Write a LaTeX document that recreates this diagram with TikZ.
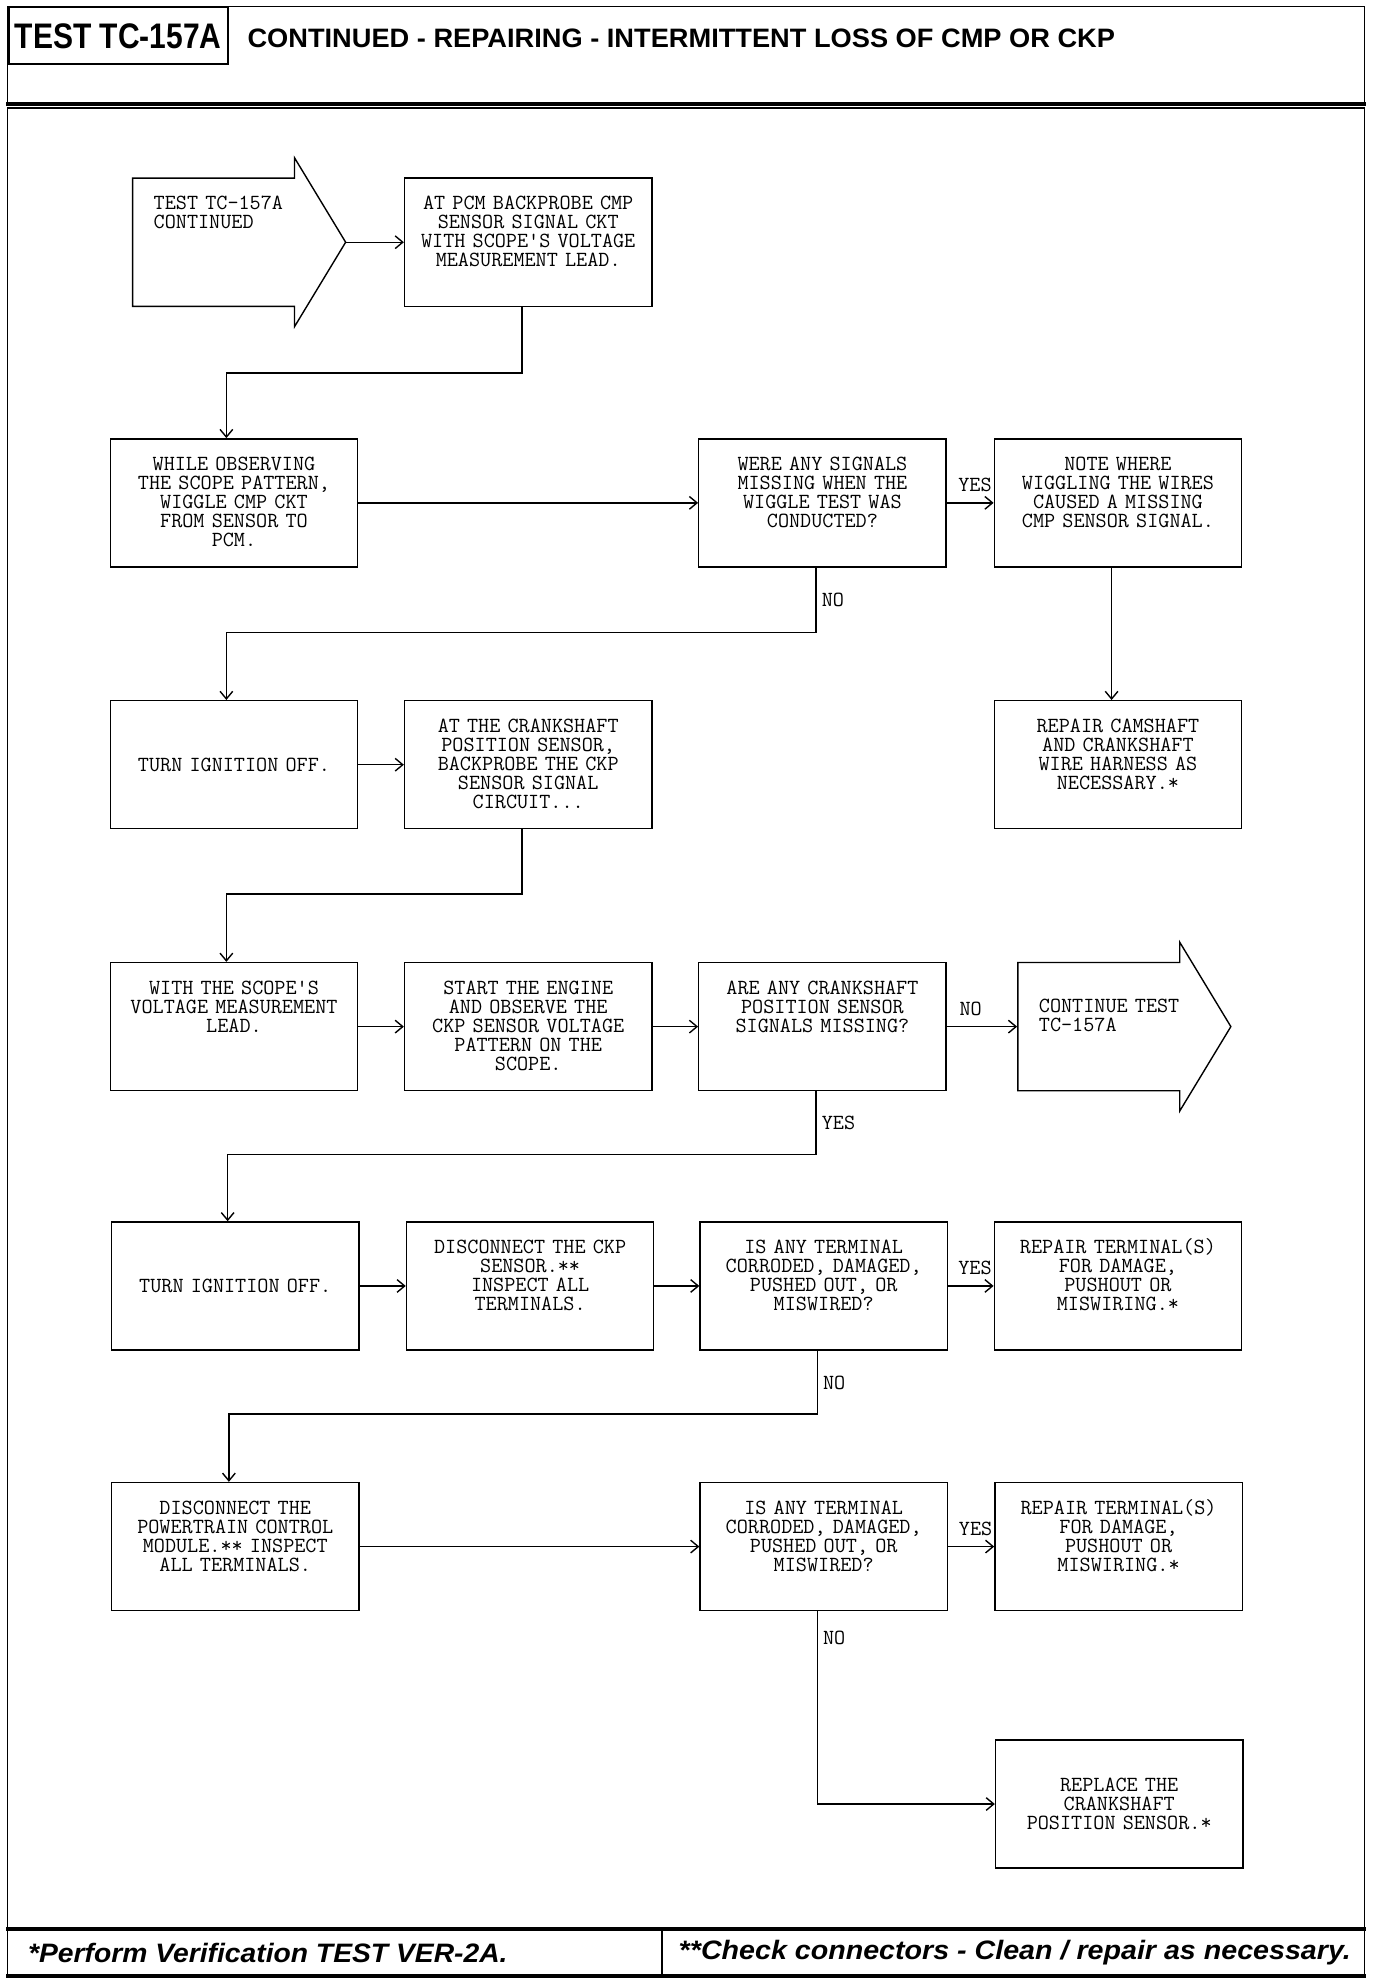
\documentclass[tikz,border=0pt]{standalone}
\usepackage{fontspec}
\setmainfont{Liberation Sans}
\usetikzlibrary{arrows.meta,shapes.arrows}

\tikzset{
  box/.style={draw, line width=1.1pt, inner sep=0pt, text width=195pt, align=center,
    text height=25pt, text depth=76pt, font=\ttfamily\fontsize{17}{15}\selectfont},
  boxmid/.style={draw, line width=1.1pt, inner sep=0pt, text width=195pt, align=center,
    minimum height=101pt, font=\ttfamily\fontsize{17}{15}\selectfont},
  bigarrow/.style={draw, line width=1.1pt, single arrow, single arrow head extend=16pt,
    single arrow head indent=0pt, single arrow tip angle=117.6, minimum height=168pt,
    inner xsep=0pt, inner ysep=50pt, anchor=tail},
  arrtext/.style={anchor=base west, text width=140pt, align=left, inner sep=0pt,
    font=\ttfamily\fontsize{17}{15}\selectfont},
  lbl/.style={inner sep=1pt, font=\ttfamily\fontsize{17}{15}\selectfont},
  arr/.style={line width=1.1pt, -{Straight Barb[length=6pt,width=10pt]}},
  foot/.style={anchor=west, inner sep=0pt, font=\bfseries\itshape\fontsize{21}{21}\selectfont}
}

\begin{document}
\begin{tikzpicture}[x=1pt,y=-1pt]
  \useasboundingbox (0,0) rectangle (1085,1566);

  % header and frame
  \draw[line width=1.2pt] (6,82) -- (6,5) -- (1076,5) -- (1076,82);
  \draw[line width=3pt] (5,82) -- (1077,82);
  \draw[line width=1.2pt] (6,85) rectangle (1076,1558);
  \draw[line width=3pt] (5,1521) -- (1077,1521);
  \draw[line width=3pt] (5,1558) -- (1077,1558);
  \draw[line width=1.2pt] (522,1521) -- (522,1558);
  \node[draw, line width=1.5pt, anchor=north west, minimum width=173pt, minimum height=45pt,
    inner sep=0pt, font=\bfseries\fontsize{28}{28}\selectfont] (testno) at (6,5)
    {\resizebox{163pt}{\height}{TEST TC-157A}};
  \node[anchor=west, inner sep=0pt, font=\bfseries\fontsize{21}{21}\selectfont] (title) at (195,30)
    {\resizebox{684pt}{\height}{CONTINUED - REPAIRING - INTERMITTENT LOSS OF CMP OR CKP}};

  \node[bigarrow] (start) at (104,191) {};
  \node[arrtext] (starttxt) at (121,165) {TEST TC-157A\\CONTINUED};
  \node[box] (A1) at (416.5,191) {AT PCM BACKPROBE CMP\\SENSOR SIGNAL CKT\\WITH SCOPE'S VOLTAGE\\MEASUREMENT LEAD.};

  \node[box] (B1) at (184.5,396.5) {WHILE OBSERVING\\THE SCOPE PATTERN,\\WIGGLE CMP CKT\\FROM SENSOR TO\\PCM.};
  \node[box] (B2) at (648.5,396.5) {WERE ANY SIGNALS\\MISSING WHEN THE\\WIGGLE TEST WAS\\CONDUCTED?};
  \node[box] (B3) at (881.5,396.5) {NOTE WHERE\\WIGGLING THE WIRES\\CAUSED A MISSING\\CMP SENSOR SIGNAL.};

  \node[boxmid] (C1) at (184.5,603) {TURN IGNITION OFF.};
  \node[box] (C2) at (416.5,603) {AT THE CRANKSHAFT\\POSITION SENSOR,\\BACKPROBE THE CKP\\SENSOR SIGNAL\\CIRCUIT...};
  \node[box] (C3) at (881.5,603) {REPAIR CAMSHAFT\\AND CRANKSHAFT\\WIRE HARNESS AS\\NECESSARY.*};

  \node[box] (D1) at (184.5,809.5) {WITH THE SCOPE'S\\VOLTAGE MEASUREMENT\\LEAD.};
  \node[box] (D2) at (416.5,809.5) {START THE ENGINE\\AND OBSERVE THE\\CKP SENSOR VOLTAGE\\PATTERN ON THE\\SCOPE.};
  \node[box] (D3) at (648.5,809.5) {ARE ANY CRANKSHAFT\\POSITION SENSOR\\SIGNALS MISSING?};
  \node[bigarrow] (D4) at (802,809.5) {};
  \node[arrtext] (D4txt) at (819,798) {CONTINUE TEST\\TC-157A};

  \node[boxmid] (E1) at (185.5,1014) {TURN IGNITION OFF.};
  \node[box] (E2) at (418,1014) {DISCONNECT THE CKP\\SENSOR.**\\INSPECT ALL\\TERMINALS.};
  \node[box] (E3) at (649.5,1014) {IS ANY TERMINAL\\CORRODED, DAMAGED,\\PUSHED OUT, OR\\MISWIRED?};
  \node[box] (E4) at (881.5,1014) {REPAIR TERMINAL(S)\\FOR DAMAGE,\\PUSHOUT OR\\MISWIRING.*};

  \node[box] (F1) at (185.5,1219.5) {DISCONNECT THE\\POWERTRAIN CONTROL\\MODULE.** INSPECT\\ALL TERMINALS.};
  \node[box] (F3) at (649.5,1219.5) {IS ANY TERMINAL\\CORRODED, DAMAGED,\\PUSHED OUT, OR\\MISWIRED?};
  \node[box] (F4) at (882,1219.5) {REPAIR TERMINAL(S)\\FOR DAMAGE,\\PUSHOUT OR\\MISWIRING.*};

  \node[boxmid] (G4) at (882.5,1422.5) {REPLACE THE\\CRANKSHAFT\\POSITION SENSOR.*};

  % connectors
  \draw[arr] (start.tip) -- (start.tip -| A1.west);
  \draw[arr] ([xshift=-5pt]A1.south) -- ++(0,52) -| ([xshift=-6pt]B1.north);
  \draw[arr] (B1) -- (B2);
  \draw[arr] (B2) -- (B3) node[lbl, pos=1, above left, yshift=7pt] {YES};
  \draw[arr] ([xshift=-5pt]B2.south) -- node[lbl, right, xshift=3pt] {NO} ++(0,51) -| ([xshift=-6pt]C1.north);
  \draw[arr] ([xshift=-5pt]B3.south) -- ([xshift=-5pt]C3.north);
  \draw[arr] (C1) -- (C2);
  \draw[arr] ([xshift=-5pt]C2.south) -- ++(0,51) -| ([xshift=-6pt]D1.north);
  \draw[arr] (D1) -- (D2);
  \draw[arr] (D2) -- (D3);
  \draw[arr] (D3) -- node[lbl, pos=0.34, above, yshift=7pt] {NO} (D4.tail);
  \draw[arr] ([xshift=-5pt]D3.south) -- node[lbl, right, xshift=3pt] {YES} ++(0,50) -| ([xshift=-6pt]E1.north);
  \draw[arr] (E1) -- (E2);
  \draw[arr] (E2) -- (E3);
  \draw[arr] (E3) -- (E4) node[lbl, pos=1, above left, yshift=7pt] {YES};
  \draw[arr] ([xshift=-5pt]E3.south) -- node[lbl, right, xshift=3pt] {NO} ++(0,50) -| ([xshift=-5pt]F1.north);
  \draw[arr] (F1) -- (F3);
  \draw[arr] (F3) -- (F4) node[lbl, pos=1, above left, yshift=7pt] {YES};
  \draw[arr] ([xshift=-5pt]F3.south) |- node[lbl, right, pos=0.07, xshift=3pt] {NO} (G4.west);

  % footer
  \node[foot] (footl) at (22,1540) {\resizebox{378pt}{\height}{*Perform Verification TEST VER-2A.}};
  \node[foot] (footr) at (535,1540) {\resizebox{530pt}{\height}{**Check connectors - Clean / repair as necessary.}};
\end{tikzpicture}
\end{document}
